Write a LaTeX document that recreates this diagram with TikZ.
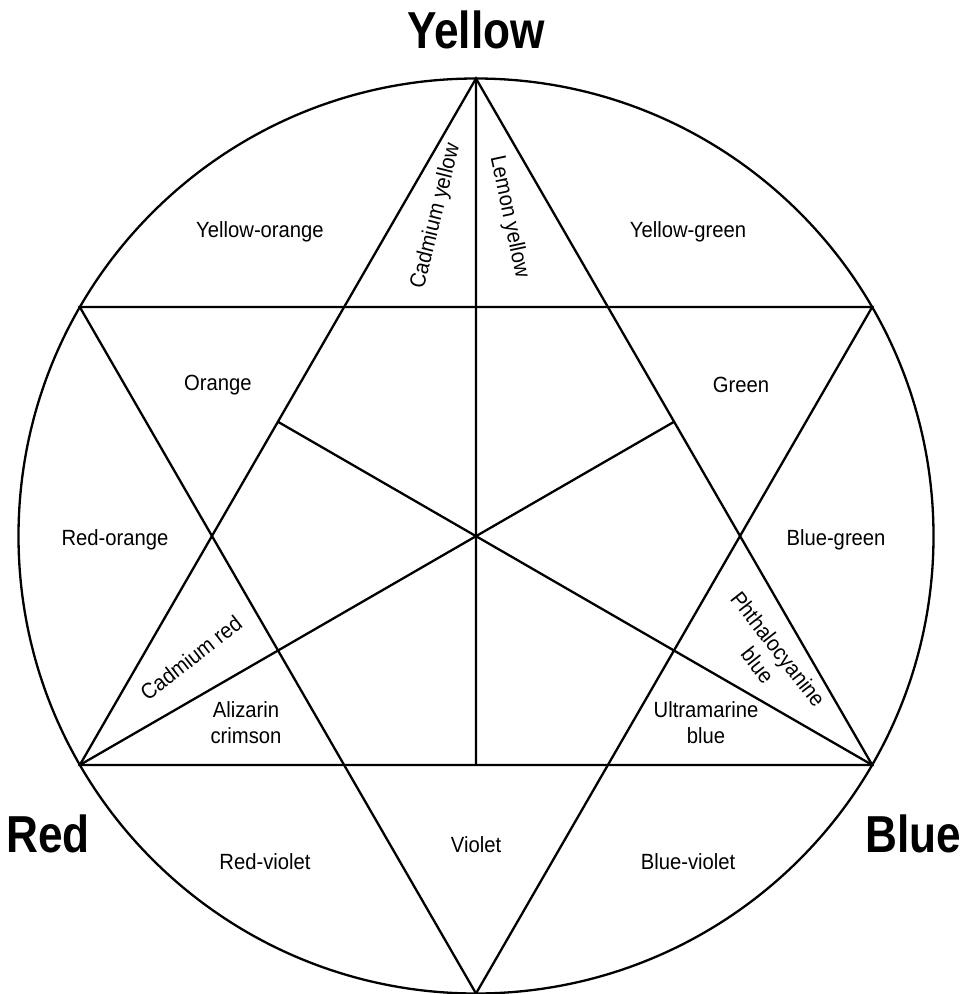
\documentclass[tikz,border=0pt]{standalone}
\usepackage{fontspec}
\setmainfont[FakeStretch=0.92]{Liberation Sans}
\newfontfamily\headfont[FakeStretch=0.85]{Liberation Sans}
\usetikzlibrary{calc}

\begin{document}
\begin{tikzpicture}[x=0.5pt,y=-0.5pt,line width=1.15pt,line join=miter,
  hue/.style={font=\fontsize{11}{13}\selectfont,align=center,inner sep=1pt},
  primary/.style={font=\headfont\bfseries\fontsize{26}{28}\selectfont,inner sep=0pt}]
\useasboundingbox (0,0) rectangle (960,994);
% star points
\coordinate (c) at (476,536);
\coordinate (yel) at (476,78.5);
\coordinate (red) at (79.8,765);
\coordinate (blu) at (872.2,765);
\coordinate (ul) at (79.8,307);
\coordinate (ur) at (872.2,307);
\coordinate (bot) at (476,993.5);
\draw (c) circle[radius=228.75pt];
\draw (yel) -- (red) -- (blu) -- cycle;
\draw (ul) -- (ur) -- (bot) -- cycle;
\draw (yel) -- ($(red)!0.5!(blu)$);
\draw (blu) -- ($(yel)!0.5!(red)$);
\draw (red) -- ($(yel)!0.5!(blu)$);
% primaries
\node[primary] (tyel) at (476,30) {Yellow};
\node[primary] (tred) at (48,834) {Red};
\node[primary] (tblu) at (913,834) {Blue};
% mixes
\node[hue] (yo) at (260,232) {Yellow-orange};
\node[hue] (yg) at (688,232) {Yellow-green};
\node[hue] (or) at (218,385) {Orange};
\node[hue] (gr) at (741,385) {Green};
\node[hue] (ro) at (115,540) {Red-orange};
\node[hue] (bg) at (836,540) {Blue-green};
\node[hue] (rv) at (265,862) {Red-violet};
\node[hue] (vi) at (476,845) {Violet};
\node[hue] (bv) at (688,862) {Blue-violet};
% paints
\node[hue,rotate=76] (cy) at (436,216) {Cadmium yellow};
\node[hue,rotate=-78] (ly) at (509,217) {Lemon yellow};
\node[hue,rotate=38] (cr) at (191,658) {Cadmium red};
\node[hue] (ac) at (246,723) {Alizarin\\crimson};
\node[hue] (ub) at (706,723) {Ultramarine\\blue};
\node[hue,rotate=-52] (pb) at (768,657) {Phthalocyanine\\blue};
\end{tikzpicture}
\end{document}
